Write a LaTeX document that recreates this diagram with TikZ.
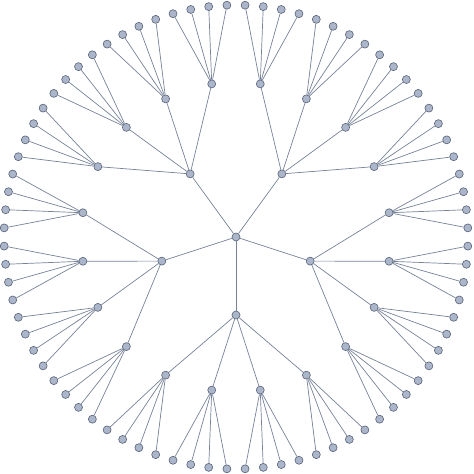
\documentclass[tikz,border=0pt]{standalone}
\usetikzlibrary{calc}
\definecolor{vtxfill}{RGB}{172,182,202}
\definecolor{vtxline}{RGB}{88,98,120}
\definecolor{edgecol}{RGB}{118,130,152}
\tikzset{
	vtx/.style={circle, draw=vtxline, fill=vtxfill, line width=0.6pt, inner sep=0pt, minimum size=8pt},
	edge/.style={line width=0.7pt, color=edgecol}
}

\begin{document}
\begin{tikzpicture}[x=1pt, y=1pt]
			%%%%% START %%%%%
			
			\useasboundingbox (-236, -237) rectangle (238, 237);
			
			\node[vtx] (r) at (0, 0) {};
			
			\foreach \i in {0,...,4} {
				\pgfmathsetmacro\ai{-90+72*\i}
				\node[vtx] (c\i) at (\ai:78) {};
				\draw[edge] (r) -- (c\i);
				\foreach \j in {0,...,3} {
					\pgfmathsetmacro\aj{\ai-27+18*\j}
					\node[vtx] (g\i\j) at (\aj:155) {};
					\draw[edge] (c\i) -- (g\i\j);
					\foreach \k in {0,...,3} {
						\pgfmathsetmacro\ak{\aj-6.75+4.5*\k}
						\node[vtx] (l\i\j\k) at (\ak:232) {};
						\draw[edge] (g\i\j) -- (l\i\j\k);
					}
				}
			}
			
			%%%%% END %%%%%
		\end{tikzpicture}
\end{document}
